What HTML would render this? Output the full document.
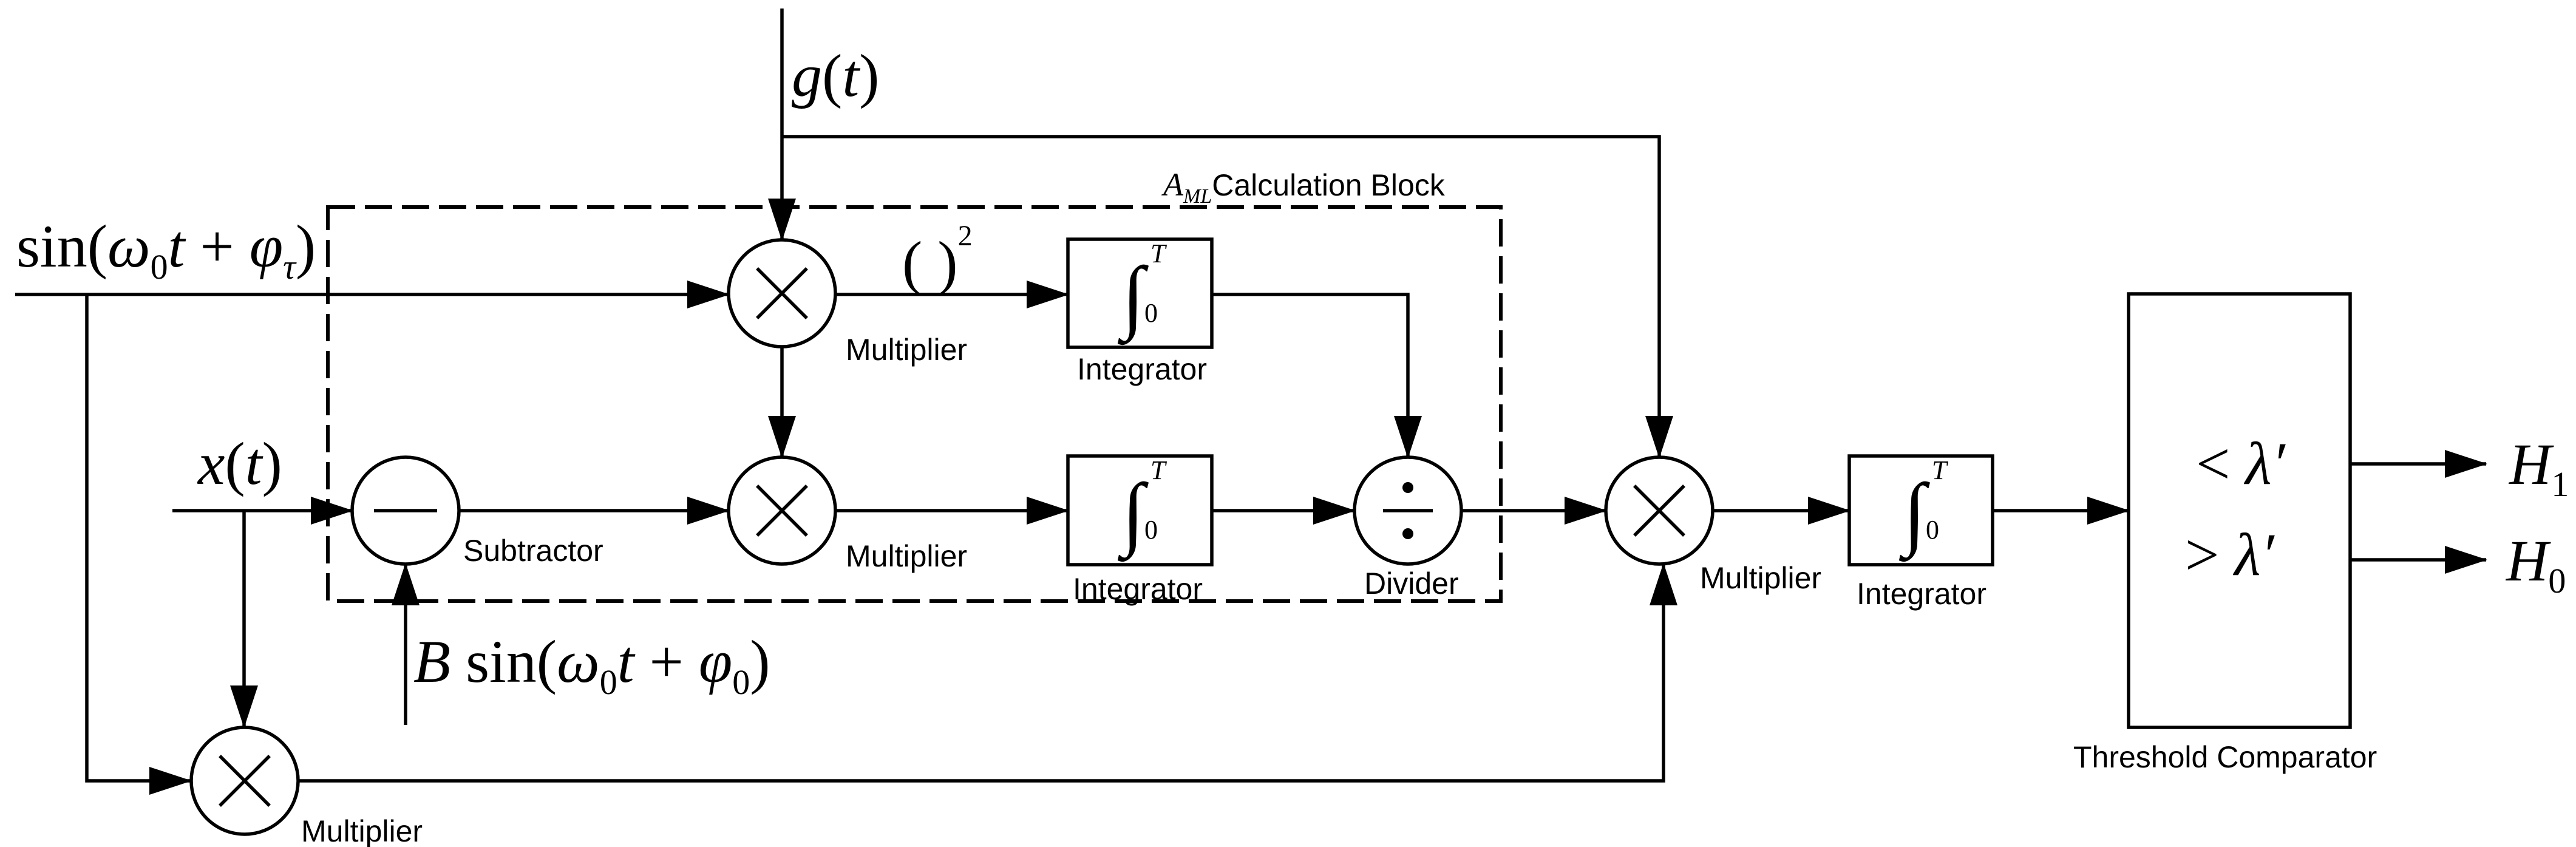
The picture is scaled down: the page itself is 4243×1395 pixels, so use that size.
<!DOCTYPE html>
<html><head><meta charset="utf-8"><style>
html,body{margin:0;padding:0;background:#fff}
svg{display:block}
.m{font-family:"Liberation Serif",serif;font-style:italic}
.r{font-family:"Liberation Serif",serif;font-style:normal}
.s{font-family:"Liberation Sans",sans-serif;font-size:50px}
</style></head><body>
<svg width="4243" height="1395" viewBox="0 0 4243 1395" xmlns="http://www.w3.org/2000/svg">
<defs>
<marker id="a" markerWidth="70" markerHeight="46" refX="68" refY="23" orient="auto" markerUnits="userSpaceOnUse">
<path d="M0,0 L70,23 L0,46 Z" fill="#000"/></marker>
</defs>
<g stroke="#000" stroke-width="5.5" fill="none">
<rect x="540" y="341" width="1932" height="649" stroke-dasharray="45,16" stroke-width="6"/>
<line x1="25" y1="485" x2="1200" y2="485" marker-end="url(#a)"/>
<path d="M143,485 V1286 H314" marker-end="url(#a)"/>
<line x1="1288" y1="14" x2="1288" y2="395" marker-end="url(#a)"/>
<path d="M1288,225 H2733 V753" marker-end="url(#a)"/>
<line x1="1288" y1="571" x2="1288" y2="753" marker-end="url(#a)"/>
<line x1="1376" y1="485" x2="1759" y2="485" marker-end="url(#a)"/>
<path d="M1996,485 H2319 V753" marker-end="url(#a)"/>
<line x1="284" y1="841" x2="580" y2="841" marker-end="url(#a)"/>
<line x1="402" y1="841" x2="402" y2="1197" marker-end="url(#a)"/>
<line x1="756" y1="841" x2="1200" y2="841" marker-end="url(#a)"/>
<line x1="1376" y1="841" x2="1759" y2="841" marker-end="url(#a)"/>
<line x1="1996" y1="841" x2="2231" y2="841" marker-end="url(#a)"/>
<line x1="2407" y1="841" x2="2645" y2="841" marker-end="url(#a)"/>
<line x1="2821" y1="841" x2="3046" y2="841" marker-end="url(#a)"/>
<line x1="3282" y1="841" x2="3506" y2="841" marker-end="url(#a)"/>
<line x1="668" y1="1194" x2="668" y2="929" marker-end="url(#a)"/>
<path d="M491,1286 H2740 V929" marker-end="url(#a)"/>
<line x1="3871" y1="764" x2="4095" y2="764" marker-end="url(#a)"/>
<line x1="3871" y1="922" x2="4095" y2="922" marker-end="url(#a)"/>
<circle cx="1288" cy="483" r="88"/>
<circle cx="1288" cy="841" r="88"/>
<circle cx="668" cy="841" r="88"/>
<circle cx="2319" cy="841" r="88"/>
<circle cx="2733" cy="841" r="88"/>
<circle cx="403" cy="1286" r="88"/>
<path d="M1247,442 L1329,524 M1329,442 L1247,524"/>
<path d="M1247,800 L1329,882 M1329,800 L1247,882"/>
<path d="M2692,800 L2774,882 M2774,800 L2692,882"/>
<path d="M362,1245 L444,1327 M444,1245 L362,1327"/>
<line x1="616" y1="841" x2="720" y2="841"/>
<line x1="2278" y1="841" x2="2360" y2="841"/>
<rect x="1759" y="394" width="237" height="178"/>
<rect x="1759" y="751" width="237" height="179"/>
<rect x="3046" y="751" width="236" height="179"/>
<rect x="3506" y="484" width="365" height="714"/>
</g>
<circle cx="2319" cy="803" r="9" fill="#000"/>
<circle cx="2319" cy="879" r="9" fill="#000"/>
<text x="27" y="439" class="r" font-size="100">sin(<tspan class="m">ω</tspan><tspan font-size="58" dy="20">0</tspan><tspan class="m" dy="-20">t</tspan> + <tspan class="m">φ</tspan><tspan class="m" font-size="58" dy="20">τ</tspan><tspan dy="-20">)</tspan></text>
<text x="326" y="797" class="r" font-size="100"><tspan class="m">x</tspan>(<tspan class="m">t</tspan>)</text>
<text x="681" y="1123" class="r" font-size="100"><tspan class="m">B</tspan> sin(<tspan class="m">ω</tspan><tspan font-size="58" dy="20">0</tspan><tspan class="m" dy="-20">t</tspan> + <tspan class="m">φ</tspan><tspan font-size="58" dy="20">0</tspan><tspan dy="-20">)</tspan></text>
<text x="1304" y="158" class="r" font-size="100"><tspan class="m">g</tspan>(<tspan class="m">t</tspan>)</text>
<text x="1486" y="466" class="r" font-size="100" xml:space="preserve">( )<tspan font-size="48" dy="-62">2</tspan></text>
<text x="1916" y="322" class="m" font-size="54">A<tspan font-size="34" dy="12">ML</tspan><tspan class="s" font-style="normal" dy="-12" font-size="54">Calculation Block</tspan></text>
<g class="r">
<text x="1848" y="532" font-size="135">∫</text><text x="1895" y="432" class="m" font-size="44">T</text><text x="1885" y="530" font-size="44">0</text>
<text x="1848" y="889" font-size="135">∫</text><text x="1895" y="789" class="m" font-size="44">T</text><text x="1885" y="887" font-size="44">0</text>
<text x="3135" y="889" font-size="135">∫</text><text x="3182" y="789" class="m" font-size="44">T</text><text x="3172" y="887" font-size="44">0</text>
</g>
<text x="3617" y="797" class="r" font-size="100">&lt; <tspan class="m">λ′</tspan></text>
<text x="3599" y="947" class="r" font-size="100">&gt; <tspan class="m">λ′</tspan></text>
<text x="4133" y="797" class="m" font-size="96">H<tspan class="r" font-size="58" dy="20">1</tspan></text>
<text x="4128" y="956" class="m" font-size="96">H<tspan class="r" font-size="58" dy="20">0</tspan></text>
<text x="1393" y="593" class="s">Multiplier</text>
<text x="1393" y="933" class="s">Multiplier</text>
<text x="763" y="924" class="s">Subtractor</text>
<text x="496" y="1386" class="s">Multiplier</text>
<text x="1774" y="625" class="s">Integrator</text>
<text x="1767" y="987" class="s">Integrator</text>
<text x="2247" y="978" class="s">Divider</text>
<text x="2800" y="969" class="s">Multiplier</text>
<text x="3058" y="995" class="s">Integrator</text>
<text x="3415" y="1264" class="s">Threshold Comparator</text>
</svg>
</body></html>
